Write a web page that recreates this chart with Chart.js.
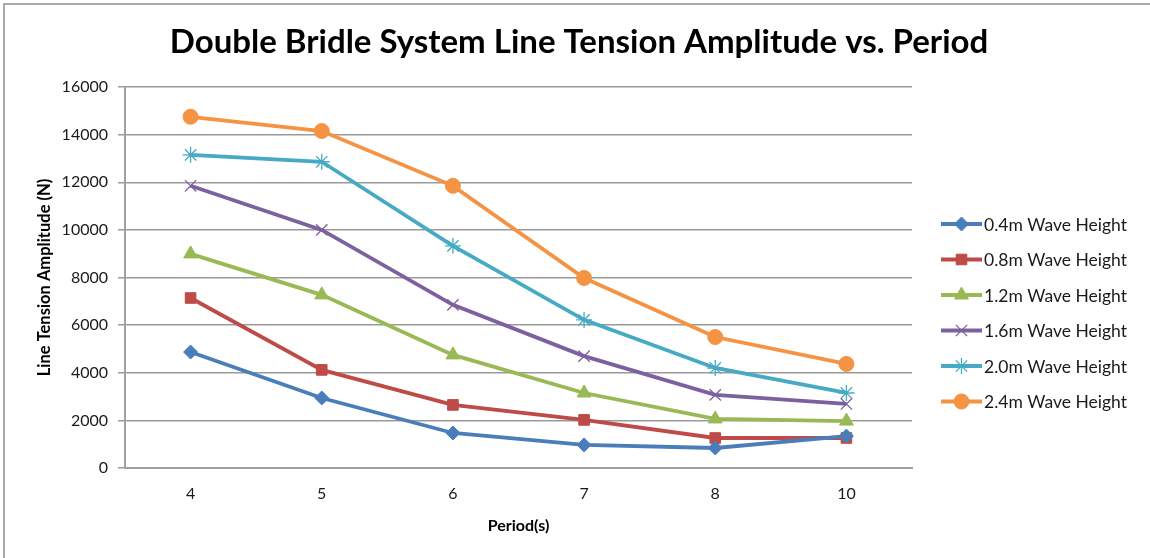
<!DOCTYPE html>
<html>
<head>
<meta charset="utf-8">
<script src="https://cdn.jsdelivr.net/npm/chart.js@4/dist/chart.umd.min.js"></script>
<style>
  html, body { margin: 0; padding: 0; background: #ffffff; }
  #wrap { position: relative; width: 1150px; height: 558px; }
</style>
</head>
<body>
<div id="wrap"><canvas id="chart" width="1150" height="558"></canvas></div>
<script>
// Wave periods (s) on the category axis
const periods = ['4', '5', '6', '7', '8', '10'];

// Line tension amplitude (N) for each wave height
const h04 = [4870, 2940, 1470, 970, 840, 1340];
const h08 = [7140, 4120, 2650, 2020, 1260, 1260];
const h12 = [8990, 7270, 4750, 3150, 2060, 1970];
const h16 = [11850, 10000, 6850, 4700, 3070, 2690];
const h20 = [13150, 12860, 9330, 6220, 4200, 3150];
const h24 = [14750, 14150, 11850, 7980, 5500, 4370];

const seriesNames = ['0.4m Wave Height', '0.8m Wave Height', '1.2m Wave Height',
                     '1.6m Wave Height', '2.0m Wave Height', '2.4m Wave Height'];

const chartTitle = 'Double Bridle System Line Tension Amplitude vs. Period';

const FONT = "Lato, 'Open Sans', sans-serif";

const styles = [
  { color: '#4A7EBB', point: 'rectRot',  radius: 7,   border: 1 },
  { color: '#BE4B48', point: 'rect',     radius: 7.5, border: 1 },
  { color: '#98B954', point: 'triangle', radius: 8,   border: 1 },
  { color: '#7D60A0', point: 'crossRot', radius: 8,   border: 1.3 },
  { color: '#46AAC5', point: 'star',     radius: 8,   border: 1.3 },
  { color: '#F59345', point: 'circle',   radius: 7.5, border: 1 }
];

const values = [h04, h08, h12, h16, h20, h24];

const datasets = values.map((v, i) => ({
  label: seriesNames[i],
  data: v,
  borderColor: styles[i].color,
  backgroundColor: styles[i].color,
  borderWidth: 3.8,
  pointStyle: styles[i].point,
  pointRadius: styles[i].radius,
  pointHoverRadius: styles[i].radius,
  pointBorderColor: styles[i].color,
  pointBackgroundColor: styles[i].color,
  pointBorderWidth: styles[i].border,
  tension: 0,
  fill: false
}));

// Outer frame and the centred chart title
const framePlugin = {
  id: 'frame',
  beforeDraw(chart) {
    const ctx = chart.ctx;
    ctx.save();
    ctx.fillStyle = '#ffffff';
    ctx.fillRect(0, 0, chart.width, chart.height);
    ctx.strokeStyle = '#a9a9a9';
    ctx.lineWidth = 2;
    ctx.beginPath();
    ctx.moveTo(4, chart.height);
    ctx.lineTo(4, 4);
    ctx.lineTo(chart.width, 4);
    ctx.stroke();
    ctx.fillStyle = '#000000';
    ctx.font = 'bold 33px ' + FONT;
    ctx.textAlign = 'center';
    ctx.textBaseline = 'middle';
    ctx.fillText(chartTitle, 579, 42);
    ctx.restore();
  }
};

// Legend on the right: line with the series marker in the middle
const sideLegend = {
  id: 'sideLegend',
  afterDraw(chart) {
    const ctx = chart.ctx;
    const x0 = 941, x1 = 982, top = 224, step = 35.5;
    ctx.save();
    chart.data.datasets.forEach((ds, i) => {
      const y = top + i * step;
      ctx.strokeStyle = ds.borderColor;
      ctx.lineWidth = 3.8;
      ctx.beginPath();
      ctx.moveTo(x0, y);
      ctx.lineTo(x1, y);
      ctx.stroke();
      ctx.fillStyle = ds.backgroundColor;
      ctx.strokeStyle = ds.borderColor;
      ctx.lineWidth = ds.pointBorderWidth;
      Chart.helpers.drawPoint(ctx, {
        pointStyle: ds.pointStyle,
        radius: ds.pointRadius,
        borderWidth: ds.pointBorderWidth,
        rotation: 0
      }, (x0 + x1) / 2, y);
      ctx.fillStyle = '#1a1a1a';
      ctx.font = '17.5px ' + FONT;
      ctx.textBaseline = 'middle';
      ctx.textAlign = 'left';
      ctx.fillText(ds.label, 984, y + 1);
    });
    ctx.restore();
  }
};

new Chart(document.getElementById('chart'), {
  type: 'line',
  data: { labels: periods, datasets },
  options: {
    responsive: false,
    animation: false,
    events: [],
    layout: { padding: { left: 0, right: 238, top: 87, bottom: 0 } },
    plugins: {
      legend: { display: false },
      tooltip: { enabled: false },
      title: { display: false }
    },
    scales: {
      x: {
        offset: true,
        grid: { display: false, drawTicks: false },
        border: { display: true, color: '#a0a0a0', width: 2 },
        ticks: { color: '#1a1a1a', font: { family: FONT, size: 16 }, padding: 16, maxRotation: 0 },
        title: {
          display: true, text: 'Period(s)', color: '#000000',
          font: { family: FONT, size: 16, weight: 'bold' },
          padding: { top: 0, bottom: 23 }
        },
        afterFit(scale) { scale.height = 90; }
      },
      y: {
        min: 0, max: 16000,
        ticks: {
          stepSize: 2000, color: '#1a1a1a', font: { family: FONT, size: 16 }, padding: 10,
          callback: (v) => String(v)
        },
        grid: { color: '#9a9a9a', lineWidth: 1.5, tickLength: 7, tickColor: '#9a9a9a' },
        border: { display: true, color: '#a0a0a0', width: 2 },
        title: {
          display: true, text: 'Line Tension Amplitude (N)', color: '#000000',
          font: { family: FONT, size: 16.5, weight: 'bold' },
          padding: { top: 35, bottom: 0 }
        },
        afterFit(scale) { scale.width = 125; }
      }
    }
  },
  plugins: [framePlugin, sideLegend]
});
</script>
</body>
</html>
